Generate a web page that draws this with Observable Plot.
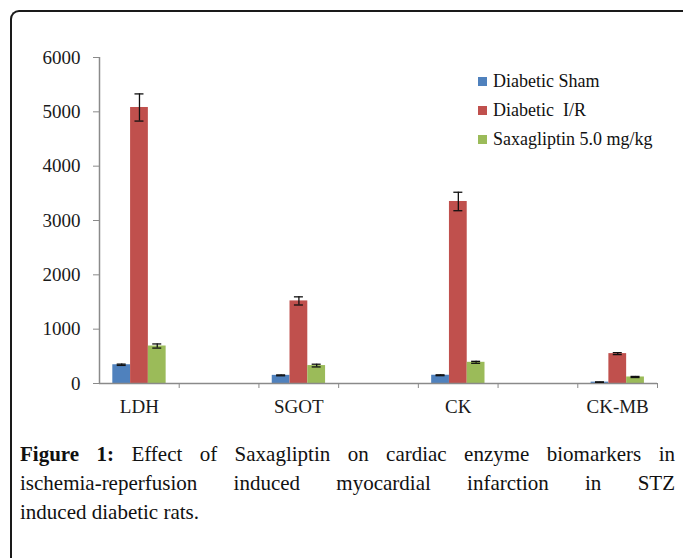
<!DOCTYPE html>
<html>
<head>
<meta charset="utf-8">
<script src="https://cdn.jsdelivr.net/npm/d3@7"></script>
<script src="https://cdn.jsdelivr.net/npm/@observablehq/plot@0.6"></script>
<style>
  html, body { margin: 0; padding: 0; background: #fff; width: 683px; height: 558px; overflow: hidden; }
  #frame { position: absolute; left: 10px; top: 10px; width: 720px; height: 600px;
    border-left: 2px solid #1a1a1a; border-top: 2px solid #1a1a1a; border-top-left-radius: 9px; box-sizing: border-box; }
  #chart { position: absolute; left: 0; top: 0; }
  #legend { position: absolute; left: 478px; top: 67px; font-family: "Liberation Serif", serif; font-size: 18px; color: #111; }
  #legend .row { height: 29px; display: flex; align-items: center; white-space: pre; }
  #legend .sw { width: 9px; height: 9px; margin-right: 6px; }
  #caption { position: absolute; left: 20px; top: 440px; width: 655px; font-family: "Liberation Serif", serif;
    font-size: 21px; line-height: 29px; color: #111; }
  #caption .j { text-align: justify; text-align-last: justify; white-space: nowrap; }
</style>
</head>
<body>
<div id="frame"></div>
<div id="chart"></div>
<div id="legend"></div>
<div id="caption">
  <div class="j"><b>Figure 1:</b> Effect of Saxagliptin on cardiac enzyme biomarkers in</div>
  <div class="j">ischemia-reperfusion induced myocardial infarction in STZ</div>
  <div>induced diabetic rats.</div>
</div>
<script>
const categories = ["LDH", "SGOT", "CK", "CK-MB"];
const seriesNames = ["Diabetic Sham", "Diabetic  I/R", "Saxagliptin 5.0 mg/kg"];
const seriesColors = ["#4F81BD", "#C0504D", "#9BBB59"];
const shamValues = [345, 150, 152, 25];
const irValues = [5080, 1520, 3350, 550];
const saxaValues = [690, 330, 390, 120];
const shamErrors = [12, 8, 8, 4];
const irErrors = [250, 75, 170, 18];
const saxaErrors = [38, 25, 18, 10];
const yTicks = [0, 1000, 2000, 3000, 4000, 5000, 6000];

const allValues = [shamValues, irValues, saxaValues];
const allErrors = [shamErrors, irErrors, saxaErrors];

// layout: each category occupies one slot, with an empty slot between categories
const slotOffset = 0.167, barW = 0.223;
const rows = [];
categories.forEach((c, i) => {
  seriesNames.forEach((s, j) => {
    const x1 = 2 * i + slotOffset + j * barW;
    rows.push({category: c, series: s, value: allValues[j][i], err: allErrors[j][i],
      x1, x2: x1 + barW, xc: x1 + barW / 2});
  });
});
const slotBounds = d3.range(1, 2 * categories.length);
const labelPos = categories.map((c, i) => 2 * i + 0.5);

const font = "Liberation Serif";
const plot = Plot.plot({
  width: 683,
  height: 425,
  marginLeft: 99,
  marginRight: 26,
  marginTop: 57,
  marginBottom: 42,
  style: {fontFamily: font, fontSize: "19px", color: "#1a1a1a", background: "transparent"},
  x: {domain: [0, 2 * categories.length - 1], axis: null},
  y: {domain: [0, 6000], axis: null},
  color: {domain: seriesNames, range: seriesColors},
  marks: [
    Plot.axisY({ticks: yTicks, tickSize: 6, tickPadding: 13, stroke: "#8a8a8a", fontSize: 19, label: null, tickFormat: d => String(d)}),
    Plot.ruleX([0], {stroke: "#8a8a8a", strokeWidth: 1.5}),
    Plot.axisX({ticks: slotBounds, tickSize: 5, stroke: "#8a8a8a", tickFormat: () => "", label: null}),
    Plot.axisX({ticks: labelPos, tickSize: 0, tickPadding: 16, fontSize: 19, label: null,
      tickFormat: d => categories[Math.round((d - 0.5) / 2)]}),
    Plot.rectY(rows, {x1: "x1", x2: "x2", y1: 0, y2: "value", fill: "series"}),
    Plot.ruleY([0], {stroke: "#8a8a8a", strokeWidth: 1.5}),
    Plot.ruleX(rows, {x: "xc", y1: d => d.value - d.err, y2: d => d.value + d.err, stroke: "#111", strokeWidth: 1.3}),
    Plot.ruleY(rows, {x1: "xc", x2: "xc", y: d => d.value + d.err, insetLeft: -4.5, insetRight: -4.5, stroke: "#111", strokeWidth: 1.3}),
    Plot.ruleY(rows, {x1: "xc", x2: "xc", y: d => d.value - d.err, insetLeft: -4.5, insetRight: -4.5, stroke: "#111", strokeWidth: 1.3})
  ]
});
document.getElementById("chart").appendChild(plot);

const legend = document.getElementById("legend");
seriesNames.forEach((s, j) => {
  const row = document.createElement("div");
  row.className = "row";
  const sw = document.createElement("span");
  sw.className = "sw";
  sw.style.background = seriesColors[j];
  const t = document.createElement("span");
  t.textContent = s;
  row.appendChild(sw);
  row.appendChild(t);
  legend.appendChild(row);
});
</script>
</body>
</html>
